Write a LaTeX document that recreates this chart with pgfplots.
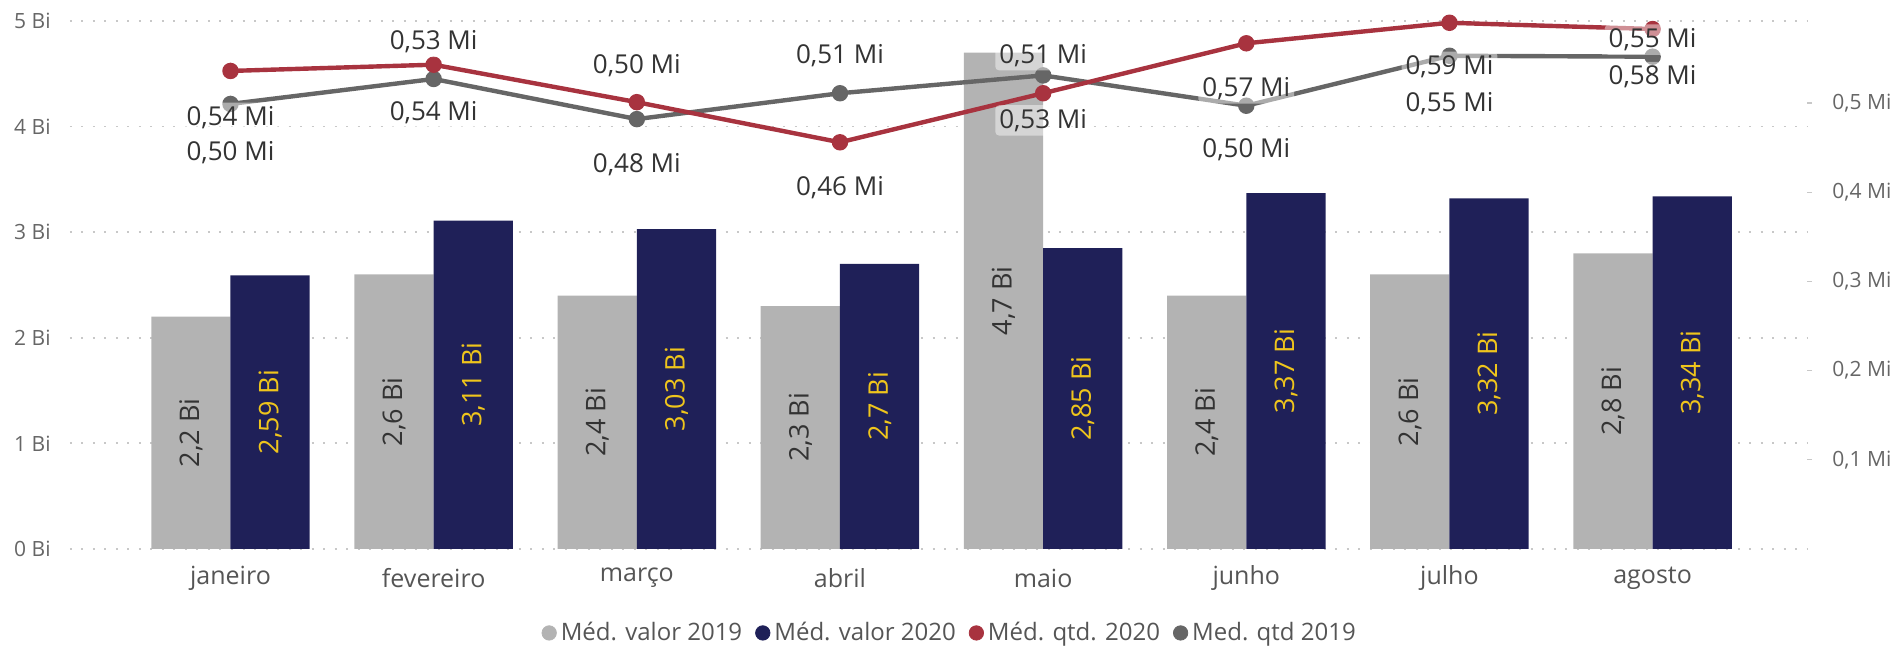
\documentclass[border=0pt]{standalone}
\usepackage{fontspec}
\setmainfont{Open Sans}
\usepackage{pgfplots}
\pgfplotsset{compat=1.18}
\usepackage{pgfplotstable}

\definecolor{gray19}{HTML}{B3B3B3}
\definecolor{navy20}{HTML}{1F2058}
\definecolor{red20}{HTML}{A8333F}
\definecolor{dgray19}{HTML}{666666}
\definecolor{lblyellow}{HTML}{EFC51C}
\definecolor{ticktext}{HTML}{666666}
\definecolor{cattext}{HTML}{555555}
\definecolor{labeltext}{HTML}{333333}
\definecolor{gridc}{HTML}{C8C8C8}

% average value (Bi)
\pgfplotstableread{
x v19 v20
0 2.2 2.59
1 2.6 3.11
2 2.4 3.03
3 2.3 2.7
4 4.7 2.85
5 2.4 3.37
6 2.6 3.32
7 2.8 3.34
}\valor

% average quantity (Mi), d = label offset in pt
\pgfplotstableread{
x q20 d20 q19 d19
0 0.536 -23.5 0.499 -24.5
1 0.543 -24 0.527 18.5
2 0.501 18.5 0.482 -23
3 0.456 -22.5 0.511 19
4 0.511 19 0.531 -22.5
5 0.567 -22.5 0.497 -22
6 0.590 -22 0.553 -24
7 0.583 -24 0.552 8.5
}\qtd

\pgfplotsset{
  base/.style={
    scale only axis, width=868.5pt, height=264pt,
    at={(0,0)}, anchor=south west,
    xmin=-0.79, xmax=7.76,
    axis line style={draw=none},
    clip=false,
    /pgf/number format/assume math mode=true,
    /pgf/number format/use comma,
    tick label style={font=\fontsize{10.5}{12}\selectfont, text=ticktext},
  },
  linelabel/.style={
    draw=none, mark=none, forget plot,
    point meta=y,
    nodes near coords={\pgfmathprintnumber[fixed,fixed zerofill,precision=2,use comma]{\pgfplotspointmeta}~Mi},
    visualization depends on={\thisrow{#1} \as \dy},
    every node near coord/.append style={anchor=center, yshift=\dy pt,
      font=\fontsize{13}{15}\selectfont, text=labeltext,
      fill=white, fill opacity=0.45, text opacity=1, rounded corners=2pt, inner sep=2pt},
  },
}

\begin{document}
\begin{tikzpicture}
\begin{axis}[base,
  ymin=0, ymax=5, ytick={0,1,...,5},
  yticklabel={\pgfmathprintnumber{\tick}~Bi},
  yticklabel style={inner sep=0pt, xshift=-9.5pt},
  xtick={0,...,7},
  xticklabels={janeiro,fevereiro,março,abril,maio,junho,julho,agosto},
  xticklabel style={font=\fontsize{12.5}{14}\selectfont, text=cattext, inner sep=0pt, anchor=center, yshift=-14.5pt},
  major tick length=0pt,
  ymajorgrids,
  grid style={dash pattern=on 1pt off 4.75pt, line width=0.9pt, color=gridc},
  ybar, bar width=0.39,
  point meta=y,
  nodes near coords={\pgfmathprintnumber[fixed,precision=2,use comma]{\pgfplotspointmeta}~Bi},
  visualization depends on={rawy \as \rawy},
  every node near coord/.append style={anchor=center, yshift={-26.4pt*\rawy}, rotate=90,
    font=\fontsize{13.5}{15}\selectfont},
]
\addplot[fill=gray19, draw=none, bar shift=-0.195,
  every node near coord/.append style={text=labeltext}] table[x=x,y=v19]{\valor};
\addplot[fill=navy20, draw=none, bar shift=0.195,
  every node near coord/.append style={text=lblyellow}] table[x=x,y=v20]{\valor};
\end{axis}

\begin{axis}[base,
  ymin=0, ymax=0.592,
  axis y line*=right, hide x axis,
  ytick={0.1,0.2,0.3,0.4,0.5},
  yticklabel={\pgfmathprintnumber[fixed,precision=1,use comma]{\tick}~Mi},
  yticklabel style={anchor=west, inner sep=0pt, xshift=10pt},
  tick align=outside, major tick length=2.5pt,
  ytick style={draw=gridc, line width=0.6pt},
  legend style={at={(rel axis cs:0.507,-0.159)}, anchor=center, draw=none, fill=none,
    legend columns=4, font=\fontsize{12}{14}\selectfont, text=cattext,
    /tikz/every even column/.append style={column sep=4.5pt}},
  legend image code/.code={\fill[#1] (3.6pt,0pt) circle (3.6pt);},
]
\addlegendimage{gray19}
\addlegendimage{navy20}
\addlegendimage{red20}
\addlegendimage{dgray19}
\addplot[dgray19, line width=2.2pt, mark=*, mark size=3pt, forget plot] table[x=x,y=q19]{\qtd};
\addplot[red20, line width=2.2pt, mark=*, mark size=3pt, forget plot] table[x=x,y=q20]{\qtd};
\addplot[linelabel=d19] table[x=x,y=q19]{\qtd};
\addplot[linelabel=d20] table[x=x,y=q20]{\qtd};
\legend{Méd. valor 2019, Méd. valor 2020, Méd. qtd. 2020, Med. qtd 2019}
\end{axis}
\pgfresetboundingbox
\useasboundingbox (-35pt,-48.5pt) rectangle (915pt,274.5pt);
\end{tikzpicture}
\end{document}
